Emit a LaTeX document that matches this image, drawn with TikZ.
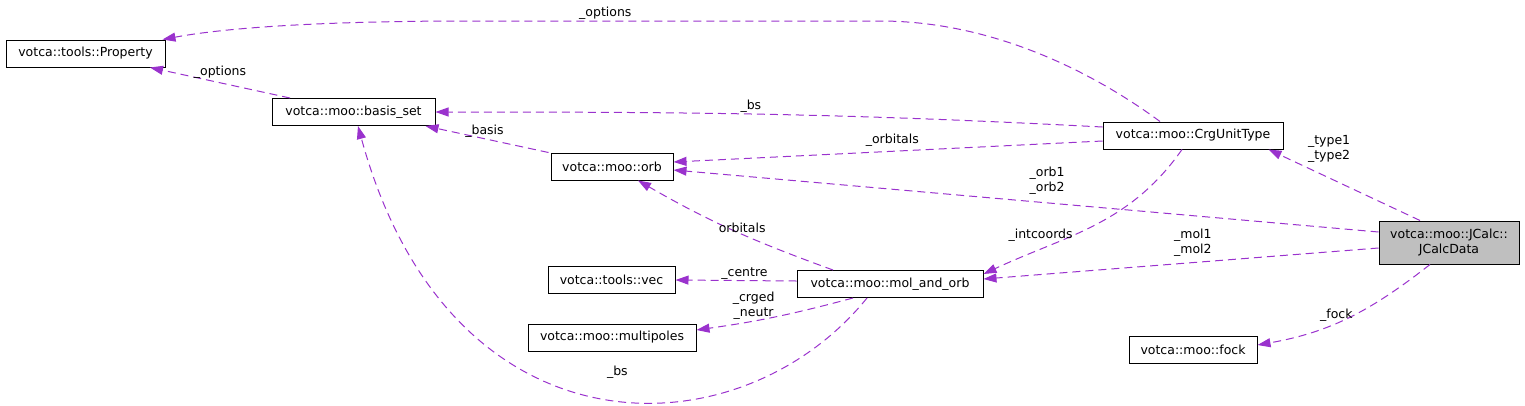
\documentclass[tikz,border=0pt]{standalone}
\usepackage{fontspec}
\setmainfont{DejaVu Sans}
\usetikzlibrary{arrows.meta}

\definecolor{edgepurple}{HTML}{9A32CD}
\definecolor{rootgray}{HTML}{BFBFBF}

\begin{document}
\begin{tikzpicture}[
    x=1pt, y=-1pt,
    cls/.style={draw=black, line width=1pt, rectangle, inner sep=0pt, minimum height=27pt, align=center, font=\fontsize{12.5}{15}\selectfont},
    root/.style={cls, fill=rootgray, minimum height=43pt},
    use/.style={-{Triangle[length=13pt,width=9pt]}, draw=edgepurple, line width=1pt, dash pattern=on 8pt off 5pt},
    lbl/.style={font=\fontsize{12.5}{15}\selectfont, inner sep=1pt, align=center}
]
\useasboundingbox (0,0) rectangle (1525,405);

\node[cls, minimum width=159pt] (prop)  at (85.5,53.5)  {votca::tools::Property};
\node[cls, minimum width=163pt] (basis) at (353.5,112)  {votca::moo::basis\_set};
\node[cls, minimum width=122pt] (orb)   at (612,166.5)  {votca::moo::orb};
\node[cls, minimum width=180pt] (crg)   at (1193,135.5) {votca::moo::CrgUnitType};
\node[cls, minimum width=127pt] (vec)   at (611.5,280)  {votca::tools::vec};
\node[cls, minimum width=186pt] (mol)   at (890,284)    {votca::moo::mol\_and\_orb};
\node[cls, minimum width=168pt] (mult)  at (612,337.5)  {votca::moo::multipoles};
\node[root, minimum width=140pt] (jcalc) at (1449,242.5) {votca::moo::JCalc::\\JCalcData};
\node[cls, minimum width=128pt] (fock)  at (1193,349.5) {votca::moo::fock};

\draw[use] ([xshift=-33pt]crg.north) .. controls (1090,70) and (990,21) .. (880,21)
    -- node[lbl, above, pos=0.67]{\_options} (470,21)
    .. controls (330,21) and (230,27) .. ([xshift=-3pt]prop.north east);
\draw[use] ([xshift=-63.5pt]basis.north) -- node[lbl, above=3pt]{\_options} ([xshift=64.5pt]prop.south);
\draw[use] ([yshift=8.5pt]crg.west) to[out=177, in=0]
    node[lbl, above, pos=0.53]{\_bs} (basis.east);
\draw[use] ([yshift=-5.5pt]crg.west) -- node[lbl, above=3pt, pos=0.49]{\_orbitals} ([yshift=4.5pt]orb.east);
\draw[use] ([xshift=-2pt]orb.north west) -- node[lbl, above, pos=0.52]{\_basis} ([xshift=-10pt]basis.south east);
\draw[use] ([yshift=10.5pt]jcalc.west) -- node[lbl, above=7pt, pos=0.47]{\_orb1\\\_orb2} ([yshift=-3.5pt]orb.east);
\draw[use] ([xshift=-11pt]crg.south) to[out=-125, in=25]
    node[lbl, left, pos=0.6]{\_intcoords} ([yshift=10pt]mol.east);
\draw[use] ([yshift=-5.5pt]jcalc.west) -- node[lbl, above=5pt, pos=0.47]{\_mol1\\\_mol2} ([yshift=5pt]mol.east);
\draw[use] ([xshift=-29pt]jcalc.north) -- node[lbl, above=14pt, pos=0.6]{\_type1\\\_type2} ([xshift=-15pt]crg.south east);
\draw[use] ([xshift=-57pt]mol.north) to[out=160, in=-30]
    node[lbl, above, pos=0.45]{orbitals} ([xshift=26pt]orb.south);
\draw[use] ([yshift=3pt]mol.west) -- node[lbl, above, pos=0.43]{\_centre} (vec.east);
\draw[use] ([xshift=-37pt]mol.south) to[out=195, in=8]
    node[lbl, above, pos=0.65]{\_crged\\\_neutr} ([yshift=7.5pt]mult.east);
\draw[use] ([xshift=-23pt]mol.south) .. controls (740,455) and (450,463) ..
    node[lbl, above=20pt, pos=0.47]{\_bs} ([xshift=4.5pt]basis.south);
\draw[use] ([xshift=-19pt]jcalc.south) to[out=-142, in=10]
    node[lbl, above, pos=0.58]{\_fock} ([yshift=4.5pt]fock.east);
\end{tikzpicture}
\end{document}
